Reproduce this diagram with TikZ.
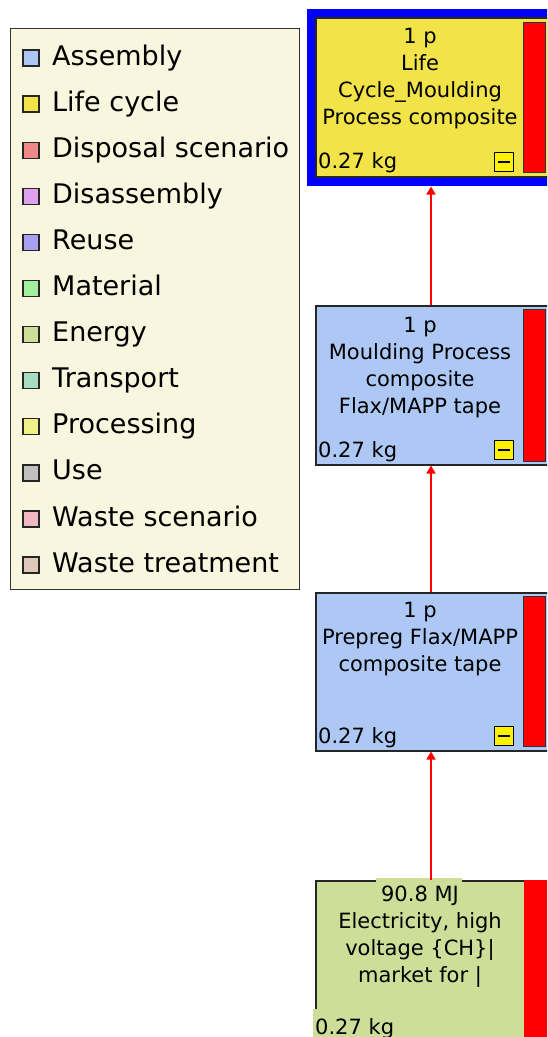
\documentclass[tikz,border=0pt]{standalone}
\usepackage{fontspec}
\setmainfont{DejaVu Sans}
\usetikzlibrary{arrows.meta}
\definecolor{assemblyc}{RGB}{173,200,245}
\definecolor{lifecyclec}{RGB}{242,228,72}
\definecolor{disposalc}{RGB}{240,136,136}
\definecolor{disassemblyc}{RGB}{224,160,240}
\definecolor{reusec}{RGB}{168,160,240}
\definecolor{materialc}{RGB}{160,240,160}
\definecolor{energyc}{RGB}{205,222,152}
\definecolor{transportc}{RGB}{168,220,192}
\definecolor{processingc}{RGB}{240,240,136}
\definecolor{usec}{RGB}{192,192,192}
\definecolor{wastescenc}{RGB}{240,184,192}
\definecolor{wastetreatc}{RGB}{224,200,184}
\definecolor{legendbg}{RGB}{248,246,222}
\definecolor{barred}{RGB}{255,0,0}
\definecolor{frameblue}{RGB}{0,0,255}
\definecolor{flowred}{RGB}{255,0,0}
\newcommand\mylines[1]{\begin{tabular}[t]{@{}c@{}}#1\end{tabular}}
\begin{document}
\begin{tikzpicture}[x=1pt,y=-1pt,
  legendbox/.style={draw=black!80, line width=1.2pt, fill=legendbg, anchor=north west, inner sep=0},
  legendsq/.style={draw=black!85, line width=1.3pt, minimum size=16pt, inner sep=0},
  legendtxt/.style={anchor=base west, inner sep=0, font=\fontsize{27}{27}\selectfont},
  procbox/.style={draw=black!85, line width=1.5pt, anchor=north west, inner sep=0, minimum width=237pt},
  bar/.style={fill=barred, draw=black!80, line width=1pt, anchor=north west, inner sep=0, minimum width=22pt},
  minusbox/.style={fill=yellow, draw=black, line width=1.3pt, minimum size=19pt, inner sep=0, anchor=north west},
  minusdash/.style={draw=black, line width=2.2pt},
  lbl/.style={anchor=base, inner sep=0, font=\fontsize{21}{27}\selectfont},
  amount/.style={anchor=base west, inner sep=0, font=\fontsize{21}{27}\selectfont},
  flow/.style={color=flowred, line width=1.4pt, -{Triangle[width=9pt,length=8pt]}}
]
\useasboundingbox (0,0) rectangle (547,1037);
\clip (0,0) rectangle (547,1037);
\fill[white] (0,0) rectangle (547,1037);

% legend
\node[legendbox, minimum width=289pt, minimum height=561pt] (legend) at (10,28) {};
\foreach \name/\col [count=\i from 0] in {Assembly/assemblyc, Life cycle/lifecyclec, Disposal scenario/disposalc, Disassembly/disassemblyc, Reuse/reusec, Material/materialc, Energy/energyc, Transport/transportc, Processing/processingc, Use/usec, Waste scenario/wastescenc, Waste treatment/wastetreatc} {
  \pgfmathsetmacro\b{65+46.1*\i}
  \node[legendsq, fill=\col] (sq\i) at (31,\b-7) {};
  \node[legendtxt] (lt\i) at (52,\b) {\name};
}

% node 1: life cycle
\node[procbox, draw=none, fill=frameblue, minimum width=260pt, minimum height=177pt] (lcframe) at (306,8) {};
\node[procbox, fill=lifecyclec, minimum height=159pt] (lc) at (315,17) {};
\node[bar, minimum height=150pt] (lcbar) at (523,22) {};
\node[minusbox] (lcmin) at (494,152) {};
\draw[minusdash] ([xshift=4pt]lcmin.west) -- ([xshift=-4pt]lcmin.east);
\node[lbl] (lctxt) at (420,43) {\mylines{1 p\\Life\\Cycle\_Moulding\\Process composite}};
\node[amount] (lcamt) at (318,168) {0.27 kg};

% node 2: moulding process
\node[procbox, fill=assemblyc, minimum height=159pt] (mp) at (315,305) {};
\node[bar, minimum height=152pt] (mpbar) at (523,309) {};
\node[minusbox] (mpmin) at (494,440) {};
\draw[minusdash] ([xshift=4pt]mpmin.west) -- ([xshift=-4pt]mpmin.east);
\node[lbl] (mptxt) at (420,332) {\mylines{1 p\\Moulding Process\\composite\\Flax/MAPP tape}};
\node[amount] (mpamt) at (318,457) {0.27 kg};

% node 3: prepreg
\node[procbox, fill=assemblyc, minimum height=158pt] (pp) at (315,592) {};
\node[bar, minimum height=150pt] (ppbar) at (523,596) {};
\node[minusbox] (ppmin) at (494,726) {};
\draw[minusdash] ([xshift=4pt]ppmin.west) -- ([xshift=-4pt]ppmin.east);
\node[lbl] (pptxt) at (420,617) {\mylines{1 p\\Prepreg Flax/MAPP\\composite tape}};
\node[amount] (ppamt) at (318,743) {0.27 kg};

% node 4: electricity
\node[procbox, fill=energyc, minimum width=209pt, minimum height=200pt] (el) at (315,880) {};
\node[anchor=north west, fill=barred, inner sep=0, minimum width=30pt, minimum height=200pt] (elbar) at (524,880) {};
\fill[energyc] (376,878) rectangle (462,905);
\node[lbl] (eltxt) at (420,901) {\mylines{90.8 MJ\\Electricity, high\\voltage \{CH\}|\\market for |}};
\node[amount, fill=energyc, inner xsep=2pt, inner ysep=9pt] (elamt) at (313,1034) {0.27 kg};

% flows
\draw[flow] ([xshift=116pt]mp.north west) -- ([xshift=125pt]lcframe.south west);
\draw[flow] ([xshift=116pt]pp.north west) -- ([xshift=116pt]mp.south west);
\draw[flow] ([xshift=116pt]el.north west) -- ([xshift=116pt]pp.south west);
\end{tikzpicture}
\end{document}
